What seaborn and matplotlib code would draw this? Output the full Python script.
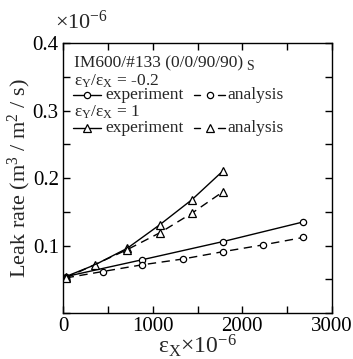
import matplotlib
matplotlib.use("Agg")
import matplotlib.pyplot as plt
from matplotlib.lines import Line2D
from matplotlib.ticker import MultipleLocator
import seaborn as sns
import pandas as pd

# Leak rate (x1e-6 m^3/m^2/s) versus strain eps_X (x1e-6)
bi_neg_exp_x = [30, 884, 1787, 2679]
bi_neg_exp_y = [0.054, 0.079, 0.106, 0.135]
bi_neg_ana_x = [30, 442, 884, 1334, 1787, 2233, 2679]
bi_neg_ana_y = [0.052, 0.0615, 0.0715, 0.080, 0.091, 0.101, 0.112]
bi_eq_exp_x = [30, 357, 717, 1081, 1438, 1787]
bi_eq_exp_y = [0.054, 0.0715, 0.096, 0.131, 0.168, 0.211]
bi_eq_ana_x = [30, 717, 1081, 1438, 1787]
bi_eq_ana_y = [0.052, 0.094, 0.119, 0.148, 0.180]

sns.set_theme(style="ticks")
plt.rcParams["font.family"] = ["Liberation Serif", "DejaVu Serif"]
plt.rcParams["mathtext.fontset"] = "custom"
plt.rcParams["mathtext.rm"] = "Liberation Serif"
plt.rcParams["mathtext.it"] = "Liberation Serif:italic"

fig = plt.figure(figsize=(3.53, 3.59), dpi=100)
ax = fig.add_axes([0.1785, 0.128, 0.762, 0.752])

series = [
    (bi_neg_exp_x, bi_neg_exp_y, "o", "-", 4.5),
    (bi_neg_ana_x, bi_neg_ana_y, "o", (0, (6, 4)), 4.5),
    (bi_eq_exp_x, bi_eq_exp_y, "^", "-", 6),
    (bi_eq_ana_x, bi_eq_ana_y, "^", (0, (6, 4)), 6),
]
for xs, ys, mk, ls, ms in series:
    df = pd.DataFrame({"x": xs, "y": ys})
    sns.lineplot(data=df, x="x", y="y", ax=ax, color="black", lw=1.0,
                 linestyle=ls, marker=mk, markersize=ms,
                 markerfacecolor="white", markeredgecolor="black",
                 markeredgewidth=0.9, sort=False, legend=False)

ax.set_xlim(0, 3000)
ax.set_ylim(0, 0.4)
ax.xaxis.set_major_locator(MultipleLocator(1000))
ax.xaxis.set_minor_locator(MultipleLocator(500))
ax.yaxis.set_major_locator(MultipleLocator(0.1))
ax.yaxis.set_minor_locator(MultipleLocator(0.05))
ax.set_yticks([0.1, 0.2, 0.3, 0.4])
ax.set_yticklabels(["0.1", "0.2", "0.3", "0.4"])
ax.tick_params(which="both", direction="in", top=True, right=True,
               length=5, width=1, colors="black", labelsize=15, pad=3)
for s in ax.spines.values():
    s.set_linewidth(1.0)
    s.set_color("black")

ax.set_xlabel(r"ε$_\mathrm{X}$×10$^{-6}$", fontsize=17, labelpad=-3)
ax.set_ylabel(r"Leak rate (m$^3$ / m$^2$ / s)", fontsize=16, labelpad=0)
fig.text(0.155, 0.905, r"×10$^{-6}$", fontsize=16, ha="left", va="bottom")

# legend block
fs = 12.5
tx = 0.04
ax.text(tx, 0.924, "IM600/#133 (0/0/90/90)", transform=ax.transAxes,
        fontsize=fs, va="center", ha="left")
ax.text(0.68, 0.912, "S", transform=ax.transAxes,
        fontsize=10, va="center", ha="left")
ax.text(tx, 0.860, r"ε$_\mathrm{Y}$/ε$_\mathrm{X}$ = -0.2", transform=ax.transAxes,
        fontsize=fs, va="center", ha="left")
ax.text(tx, 0.744, r"ε$_\mathrm{Y}$/ε$_\mathrm{X}$ = 1", transform=ax.transAxes,
        fontsize=fs, va="center", ha="left")

def legend_row(yrow, mk, ms):
    ax.add_line(Line2D([0.037, 0.141], [yrow, yrow], transform=ax.transAxes,
                       color="black", lw=1.0))
    ax.add_line(Line2D([0.089], [yrow], transform=ax.transAxes, marker=mk,
                       markersize=ms, mfc="white", mec="black", mew=0.9))
    ax.text(0.156, yrow, "experiment", transform=ax.transAxes, fontsize=fs,
            va="center", ha="left")
    for x0, x1 in ((0.487, 0.51), (0.578, 0.602)):
        ax.add_line(Line2D([x0, x1], [yrow, yrow], transform=ax.transAxes,
                           color="black", lw=1.0))
    ax.add_line(Line2D([0.546], [yrow], transform=ax.transAxes, marker=mk,
                       markersize=ms, mfc="white", mec="black", mew=0.9))
    ax.text(0.61, yrow, "analysis", transform=ax.transAxes, fontsize=fs,
            va="center", ha="left")

legend_row(0.806, "o", 4.5)
legend_row(0.686, "^", 6)

fig.savefig("out.png", dpi=100)
